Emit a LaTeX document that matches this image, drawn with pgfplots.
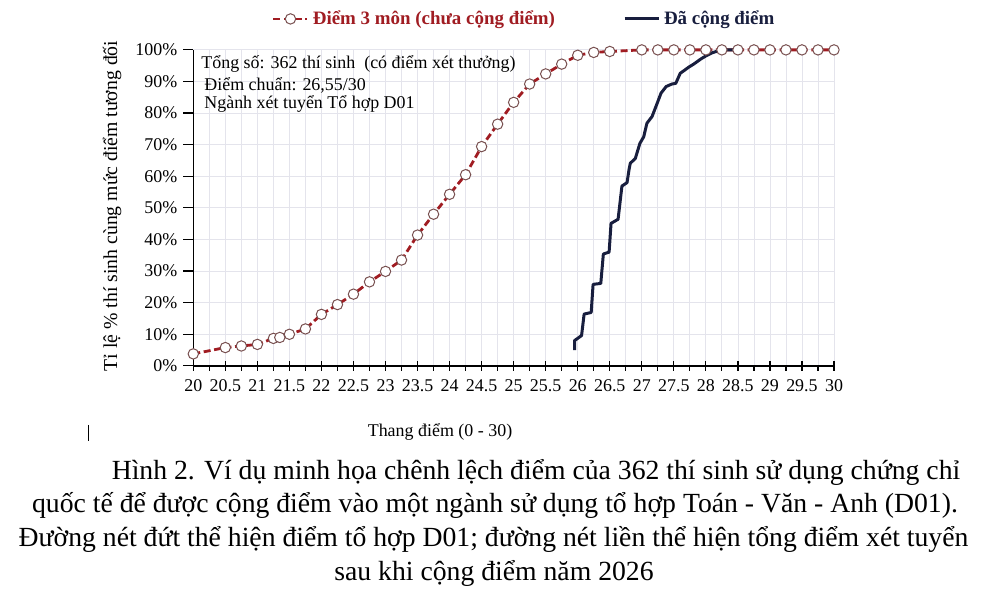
\documentclass[border=0pt]{standalone}
\usepackage{pgfplots}
\pgfplotsset{compat=1.18}
\usepackage{fontspec}
\setmainfont{Liberation Serif}
\definecolor{dashred}{RGB}{160,28,34}
\definecolor{markedge}{RGB}{120,80,80}
\definecolor{navy}{RGB}{24,30,62}
\definecolor{gridc}{RGB}{228,228,236}
\begin{document}
\begin{tikzpicture}
\path[use as bounding box] (0,0) rectangle (500bp,298bp);
\begin{axis}[
  at={(96.65bp,115.05bp)}, anchor=south west,
  scale only axis, width=320.35bp, height=158bp,
  xmin=20, xmax=30, ymin=0, ymax=100,
  axis lines=left, axis line style={-, line width=0.8bp, black},
  xtick={20,20.5,...,30}, minor x tick num=1,
  ytick={0,10,...,100}, minor y tick num=0,
  grid=both,
  major grid style={gridc, line width=0.4bp},
  minor grid style={gridc, line width=0.4bp},
  ymajorgrids=true, yminorgrids=false,
  xtick style={black, line width=0.6bp},
  ytick style={black, line width=0.6bp},
  x tick style={/pgfplots/tick align=center},
  xminorticks=true,
  minor x tick style={/pgfplots/tick align=outside},
  y tick style={/pgfplots/tick align=outside},
  major tick length=5bp, minor tick length=2.5bp,
  every tick label/.append style={font=\fontsize{9}{10}\selectfont},
  /pgf/number format/assume math mode=true,
  yticklabel={\pgfmathprintnumber{\tick}\%},
  x tick label style={yshift=-1bp},
  y tick label style={xshift=-2bp},
  clip=false,
  legend columns=2,
  legend style={at={(0.113,1.098)}, anchor=west, draw=none, fill=none,
    font=\fontsize{9.5}{11}\selectfont\bfseries,
    /tikz/every even column/.append style={column sep=32bp},
    legend cell align=left},
]
\addplot[dashred, line width=1.4bp, dash pattern=on 3.5bp off 1.8bp,
  mark=*, mark size=2.6bp,
  mark options={solid, draw=markedge, fill=white, line width=0.5bp}]
coordinates {
(20.0,3.8)(20.5,5.8)(20.75,6.3)(21.0,6.8)(21.25,8.7)(21.35,9.0)(21.5,10.0)
(21.75,11.7)(22.0,16.3)(22.25,19.4)(22.5,22.7)(22.75,26.6)(23.0,29.9)
(23.25,33.5)(23.5,41.4)(23.75,48.0)(24.0,54.3)(24.25,60.5)(24.5,69.4)
(24.75,76.5)(25.0,83.4)(25.25,89.2)(25.5,92.4)(25.75,95.5)(26.0,98.3)
(26.25,99.2)(26.5,99.5)(27.0,100)(27.25,100)(27.5,100)(27.75,100)(28.0,100)
(28.25,100)(28.5,100)(28.75,100)(29.0,100)(29.25,100)(29.5,100)(29.75,100)(30.0,100)
};
\addlegendentry{\textcolor{dashred}{Điểm 3 môn (chưa cộng điểm)}}
\addplot[navy, line width=1.5bp, line join=round]
coordinates {
(25.95,5.0)(25.95,8.0)(26.06,9.6)(26.10,16.4)(26.21,16.9)(26.24,25.8)
(26.36,26.1)(26.40,35.4)(26.49,36.0)(26.52,45.1)(26.63,46.4)(26.69,56.9)
(26.77,58.0)(26.80,62.0)(26.82,64.1)(26.90,65.7)(26.97,70.4)(27.03,72.5)
(27.08,76.8)(27.16,78.9)(27.24,83.1)(27.30,86.3)(27.38,88.4)(27.47,89.2)
(27.53,89.4)(27.60,92.6)(27.67,93.6)(27.73,94.5)(27.81,95.5)(27.92,97.1)
(28.01,98.2)(28.10,99.1)(28.18,99.6)(28.25,100)(28.48,100)
};
\addlegendentry{\textcolor{navy}{Đã cộng điểm}}
\end{axis}
% axis labels
\node[rotate=90, font=\fontsize{9.9}{12}\selectfont] at (56bp,195bp) {Tỉ lệ \% thí sinh cùng mức điểm tương đối};
\node[font=\fontsize{9}{11}\selectfont] at (220bp,82bp) {Thang điểm (0 - 30)};
% info text
\node[anchor=west, inner sep=0pt, font=\fontsize{9}{11}\selectfont] at (100.5bp,266bp) {Tổng số: 362 thí sinh\ \ (có điểm xét thưởng)};
\node[anchor=west, inner sep=0pt, font=\fontsize{9}{11}\selectfont] at (102bp,255.5bp) {Điểm chuẩn: 26,55/30};
\node[anchor=west, inner sep=0pt, font=\fontsize{9}{11}\selectfont] at (102bp,246bp) {Ngành xét tuyển Tổ hợp D01};
% cursor mark
\draw[black, line width=0.5bp] (44bp,85.5bp) -- (44bp,77.5bp);
% caption
\begin{scope}[every node/.style={font=\fontsize{13.9}{16}\selectfont, inner sep=0pt}]
\node at (268bp,62bp) {Hình 2. Ví dụ minh họa chênh lệch điểm của 362 thí sinh sử dụng chứng chỉ};
\node at (247.5bp,45.5bp) {quốc tế để được cộng điểm vào một ngành sử dụng tổ hợp Toán - Văn - Anh (D01).};
\node at (246.75bp,28.5bp) {Đường nét đứt thể hiện điểm tổ hợp D01; đường nét liền thể hiện tổng điểm xét tuyển};
\node at (247bp,11.5bp) {sau khi cộng điểm năm 2026};
\end{scope}
\end{tikzpicture}
\end{document}
